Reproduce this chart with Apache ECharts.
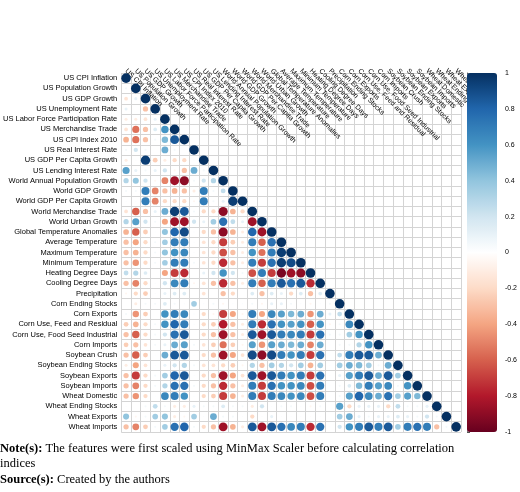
<!DOCTYPE html>
<html>
<head>
<meta charset="utf-8">
<script src="https://cdn.jsdelivr.net/npm/echarts@6/dist/echarts.min.js"></script>
<style>
  html,body{margin:0;padding:0;background:#fff;}
  #main{width:520px;height:492px;}
</style>
</head>
<body>
<div id="main"></div>
<script>
  // 变量名
  var variables=[
    "US CPI Inflation","US Population Growth","US GDP Growth","US Unemployment Rate",
    "US Labor Force Participation Rate","US Merchandise Trade","US CPI Index 2010",
    "US Real Interest Rate","US GDP Per Capita Growth","US Lending Interest Rate",
    "World Annual Population Growth","World GDP Growth","World GDP Per Capita Growth",
    "World Merchandise Trade","World Urban Growth","Global Temperature Anomalies",
    "Average Temperature","Maximum Temperature","Minimum Temperature","Heating Degree Days",
    "Cooling Degree Days","Precipitation","Corn Ending Stocks","Corn Exports",
    "Corn Use, Feed and Residual","Corn Use, Food Seed Industrial","Corn Imports",
    "Soybean Crush","Soybean Ending Stocks","Soybean Exports","Soybean Imports",
    "Wheat Domestic","Wheat Ending Stocks","Wheat Exports","Wheat Imports"
  ];
  // 下三角相关系数 (第i行, 列0..i-1)
  var lowerRows=[
    [],
    [0.05],
    [-0.15,0.1],
    [0.1,0,-0.3],
    [-0.1,-0.1,-0.15,0.1],
    [-0.15,-0.55,-0.3,0.15,0.6],
    [-0.35,-0.55,-0.3,0.05,0.45,0.85],
    [0.05,0.2,0.05,0,0.5,0.05,0],
    [-0.1,0.02,0.95,-0.25,-0.1,-0.2,-0.2,0.02],
    [0.55,0.1,0.05,0.1,0.2,-0.05,-0.3,0.5,0.05],
    [0.3,0.4,0.2,-0.05,-0.5,-0.85,-0.9,0.05,0.2,0.3],
    [0.05,0.05,0.7,-0.5,-0.3,-0.35,-0.3,-0.1,0.7,0.05,0.25],
    [0.02,0.02,0.7,-0.5,-0.2,-0.2,-0.2,-0.05,0.7,0.05,0.1,0.95],
    [-0.15,-0.6,-0.3,0.1,0.5,0.95,0.85,0.05,-0.2,-0.2,-0.9,-0.35,-0.2],
    [0.3,0.55,0.2,0.05,-0.4,-0.85,-0.85,0.2,0.1,0.35,0.75,0.25,0.1,-0.85],
    [-0.35,-0.6,-0.25,0.02,0.4,0.8,0.9,0.02,-0.2,-0.3,-0.9,-0.35,-0.1,0.8,-0.85],
    [-0.3,-0.4,-0.2,0.05,0.35,0.7,0.7,0.02,-0.15,-0.2,-0.7,-0.25,-0.1,0.7,-0.6,0.75],
    [-0.3,-0.35,-0.2,0.05,0.4,0.6,0.65,0.02,-0.15,-0.2,-0.65,-0.3,-0.1,0.6,-0.55,0.7,0.95],
    [-0.3,-0.45,-0.2,0.05,0.35,0.7,0.7,0.05,-0.15,-0.2,-0.75,-0.3,-0.1,0.7,-0.7,0.75,0.95,0.9],
    [0.25,0.3,0.15,0,-0.4,-0.7,-0.75,0,0.1,0.2,0.6,0.2,0.05,-0.65,0.7,-0.7,-0.95,-0.85,-0.9],
    [-0.3,-0.5,-0.2,0.02,0.2,0.65,0.7,-0.05,-0.15,-0.3,-0.75,-0.3,-0.1,0.7,-0.6,0.7,0.85,0.75,0.85,-0.75],
    [-0.05,-0.2,-0.25,0.02,0.1,0.15,0.15,0,-0.15,0,-0.3,-0.2,0,0.15,-0.3,0.15,0.1,-0.2,0.15,-0.3,0.15],
    [0,-0.1,0.05,0.05,0.15,0.05,0.02,0.35,0.02,0.05,-0.05,0.02,0.02,0.05,-0.05,0.1,0.1,0.05,0.02,-0.05,0.02,0.05],
    [0.05,-0.45,-0.25,0,0.6,0.7,0.65,0.02,-0.2,-0.05,-0.7,-0.4,-0.05,0.7,-0.4,0.65,0.55,0.45,0.5,-0.45,0.5,0.1,0.25],
    [-0.25,-0.35,-0.2,0.05,0.6,0.8,0.7,0.02,-0.2,-0.25,-0.8,-0.3,-0.1,0.7,-0.75,0.75,0.6,0.55,0.6,-0.6,0.6,-0.05,0.05,0.65],
    [-0.3,-0.6,-0.2,0.05,0.2,0.75,0.85,0,-0.2,-0.3,-0.85,-0.3,-0.1,0.85,-0.85,0.85,0.7,0.65,0.7,-0.7,0.75,0.05,0.05,0.35,0.6],
    [-0.25,-0.3,-0.15,0.05,0.1,0.5,0.55,0.05,-0.15,-0.25,-0.55,-0.25,-0.05,0.55,-0.45,0.55,0.5,0.45,0.5,-0.5,0.5,0.02,0.05,0.05,0.3,0.6],
    [-0.3,-0.6,-0.25,0.02,0.5,0.85,0.85,0.02,-0.2,-0.3,-0.85,-0.4,-0.15,0.9,-0.9,0.9,0.7,0.6,0.7,-0.7,0.75,0.02,0.25,0.7,0.85,0.85,0.5],
    [-0.1,-0.4,-0.15,0.02,0.1,0.2,0.3,0.05,-0.15,-0.15,-0.2,-0.25,-0.05,0.3,-0.3,0.35,0.3,0.2,0.35,-0.35,0.35,0.02,0.35,0.5,0.45,0.35,0.05,0.5],
    [-0.3,-0.7,-0.2,0.05,0.35,0.8,0.85,0.02,-0.2,-0.3,-0.85,-0.4,-0.15,0.85,-0.85,0.85,0.7,0.6,0.7,-0.7,0.75,0.02,0.1,0.55,0.7,0.85,0.5,0.85,0.35],
    [-0.3,-0.5,-0.2,0.05,0.3,0.75,0.75,0.05,-0.2,-0.3,-0.75,-0.3,-0.1,0.7,-0.7,0.75,0.6,0.6,0.65,-0.65,0.7,0.02,0.05,0.15,0.45,0.7,0.55,0.65,0.05,0.6],
    [-0.3,-0.45,-0.2,0.02,0.65,0.7,0.6,0.02,-0.2,-0.25,-0.7,-0.35,-0.1,0.7,-0.7,0.7,0.65,0.6,0.65,-0.65,0.7,0.02,0.05,0.55,0.8,0.65,0.5,0.75,0.35,0.55,0.45],
    [0.02,0,0.05,0.25,0.05,-0.1,-0.1,0.1,0.05,0.05,0.15,0.05,0.05,-0.1,0.2,0.02,0.05,0.05,0.02,-0.05,0.05,0,0.55,-0.2,0.1,0.1,0.1,-0.2,0.25,0.05,0.05,0.1],
    [0.4,-0.05,0.05,0.35,0.4,-0.1,-0.05,0.35,0.02,0.5,0.05,0.05,0.02,-0.2,0.02,0.1,0.02,0.02,0.02,-0.02,0.02,0,0.35,0.5,0.1,0.05,0.1,0.1,0.15,0.1,0.05,0.2,0.05],
    [-0.3,-0.5,-0.25,0.05,0.35,0.75,0.8,0.05,-0.2,-0.3,-0.85,-0.35,-0.1,0.85,-0.85,0.85,0.75,0.65,0.7,-0.75,0.75,0.02,0.2,0.6,0.7,0.85,0.7,0.85,0.35,0.7,0.75,0.7,-0.3,0.05]
  ];
  // 色阶 (RdBu)
  var rdbu=["#67001F","#B2182B","#D6604D","#F4A582","#FDDBC7","#FFFFFF","#D1E5F0","#92C5DE","#4393C3","#2166AC","#053061"];

  var points=[];
  lowerRows.forEach(function(row,i){
    row.forEach(function(v,j){
      points.push([j,i,v]);
    });
    points.push([i,i,1]);
  });

  var chart=echarts.init(document.getElementById("main"));
  chart.setOption({
    animation:false,
    backgroundColor:"#fff",
    textStyle:{fontFamily:"Liberation Sans"},
    grid:[
      {left:101,top:73,width:360,height:359},
      {left:467,top:73,width:30,height:359}
    ],
    xAxis:[
      {
        type:"category",gridIndex:0,position:"top",data:variables,
        axisLine:{show:false},axisTick:{show:false},
        axisLabel:{interval:0,rotate:45,align:"left",verticalAlign:"middle",fontSize:7,color:"#000",margin:3},
        splitLine:{show:true,interval:0,lineStyle:{color:"#d4d4d4",width:1}}
      },
      {type:"value",gridIndex:1,show:false,min:0,max:1}
    ],
    yAxis:[
      {
        type:"category",gridIndex:0,inverse:true,data:variables,
        axisLine:{show:false},axisTick:{show:false},
        axisLabel:{interval:0,fontSize:7.5,color:"#000",margin:4},
        splitLine:{show:true,interval:0,lineStyle:{color:"#d4d4d4",width:1}}
      },
      {
        type:"value",gridIndex:1,position:"right",min:-1,max:1,interval:0.2,
        axisLine:{show:true,lineStyle:{color:"#555",width:0.8}},
        axisTick:{show:true,inside:false,length:3,lineStyle:{color:"#555"}},
        axisLabel:{fontSize:7,color:"#000",margin:12,formatter:function(v){return String(Math.round(v*10)/10);}},
        splitLine:{show:false}
      }
    ],
    visualMap:{
      type:"continuous",min:-1,max:1,dimension:2,seriesIndex:0,
      inRange:{color:rdbu},
      left:467,top:73,itemWidth:30,itemHeight:359,padding:0,
      calculable:false,text:null,showLabel:false,
      textStyle:{fontSize:0}
    },
    graphic:[
      {
        type:"text",left:0,top:441,
        style:{
          text:"{b|Note(s):} The features were first scaled using MinMax Scaler before calculating correlation\nindices",
          rich:{b:{fontWeight:"bold",fontFamily:"Liberation Serif",fontSize:12.5}},
          fontFamily:"Liberation Serif",fontSize:12.5,fill:"#000",lineHeight:15
        }
      },
      {
        type:"text",left:0,top:473,
        style:{
          text:"{b|Source(s):} Created by the authors",
          rich:{b:{fontWeight:"bold",fontFamily:"Liberation Serif",fontSize:12.5}},
          fontFamily:"Liberation Serif",fontSize:12.5,fill:"#000"
        }
      }
    ],
    series:[
      {
        type:"scatter",xAxisIndex:0,yAxisIndex:0,data:points,
        symbolSize:function(d){return 9.6*Math.sqrt(Math.abs(d[2]));},
        itemStyle:{opacity:1}
      }
    ]
  });
</script>
</body>
</html>
